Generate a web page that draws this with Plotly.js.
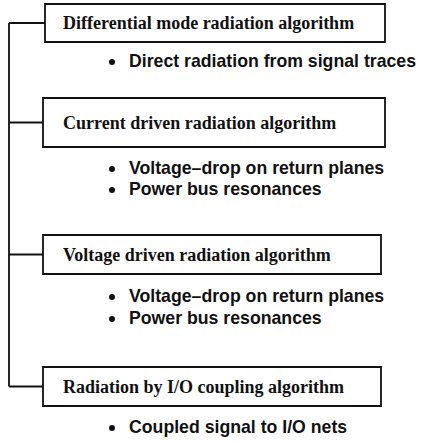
<!DOCTYPE html>
<html><head><meta charset="utf-8">
<script src="https://cdn.plot.ly/plotly-3.0.1.min.js"></script>
<style>html,body{margin:0;padding:0;background:#fff}#c{width:421px;height:442px}</style>
</head><body><div id="c"></div>
<script>
// Content
const boxLabels = [
  "Differential mode radiation algorithm",
  "Current driven radiation algorithm",
  "Voltage driven radiation algorithm",
  "Radiation by I/O coupling algorithm"
];
const bulletItems = [
  ["Direct radiation from signal traces"],
  ["Voltage\u2013drop on return planes", "Power bus resonances"],
  ["Voltage\u2013drop on return planes", "Power bus resonances"],
  ["Coupled signal to I/O nets"]
];

// Layout geometry (pixel space)
const boxLeft = [45, 43, 43, 43];
const boxRight = [385, 385, 381, 381];
const boxTop = [4, 98, 235, 367];
const boxBottom = [42, 147, 274, 406];
const bulletY = [[61], [168, 189], [296, 318], [427]];
const trunkX = 9;
const dotX = 112, textX = 127;

const shapes = [];
const annotations = [];
const dotXs = [], dotYs = [];
for (let i = 0; i < boxLabels.length; i++) {
  const cy = (boxTop[i] + boxBottom[i]) / 2;
  shapes.push({type:'rect', xref:'x', yref:'y', x0:boxLeft[i], x1:boxRight[i], y0:boxTop[i], y1:boxBottom[i],
    line:{color:'#111', width:1.8}, fillcolor:'rgba(0,0,0,0)'});
  shapes.push({type:'line', xref:'x', yref:'y', x0:trunkX, x1:boxLeft[i], y0:cy, y1:cy, line:{color:'#111', width:1.8}});
  annotations.push({x:61, y:cy, xref:'x', yref:'y', xanchor:'left', yanchor:'middle', showarrow:false,
    text:boxLabels[i], font:{family:'Liberation Serif, Times New Roman, serif', size:18, color:'#111', weight:'bold'}});
  bulletItems[i].forEach((t, j) => {
    dotXs.push(dotX); dotYs.push(bulletY[i][j] + 1);
    annotations.push({x:textX, y:bulletY[i][j], xref:'x', yref:'y', xanchor:'left', yanchor:'middle', showarrow:false,
      text:t, font:{family:'Liberation Sans, Arial, sans-serif', size:17.7, color:'#111', weight:'bold'}});
  });
}
const firstCy = (boxTop[0] + boxBottom[0]) / 2;
const lastCy = (boxTop[3] + boxBottom[3]) / 2;
shapes.push({type:'line', xref:'x', yref:'y', x0:trunkX, x1:trunkX, y0:firstCy, y1:lastCy, line:{color:'#111', width:1.8}});

const dots = {type:'scatter', mode:'markers', x:dotXs, y:dotYs, hoverinfo:'skip',
  marker:{symbol:'circle', size:6, color:'#111', line:{width:0}}};

Plotly.newPlot('c', [dots], {
  width:421, height:442, margin:{l:0, r:0, t:0, b:0},
  paper_bgcolor:'#fff', plot_bgcolor:'#fff',
  xaxis:{range:[0,421], visible:false, fixedrange:true},
  yaxis:{range:[442,0], visible:false, fixedrange:true},
  shapes:shapes, annotations:annotations, showlegend:false
}, {staticPlot:true});
</script></body></html>
